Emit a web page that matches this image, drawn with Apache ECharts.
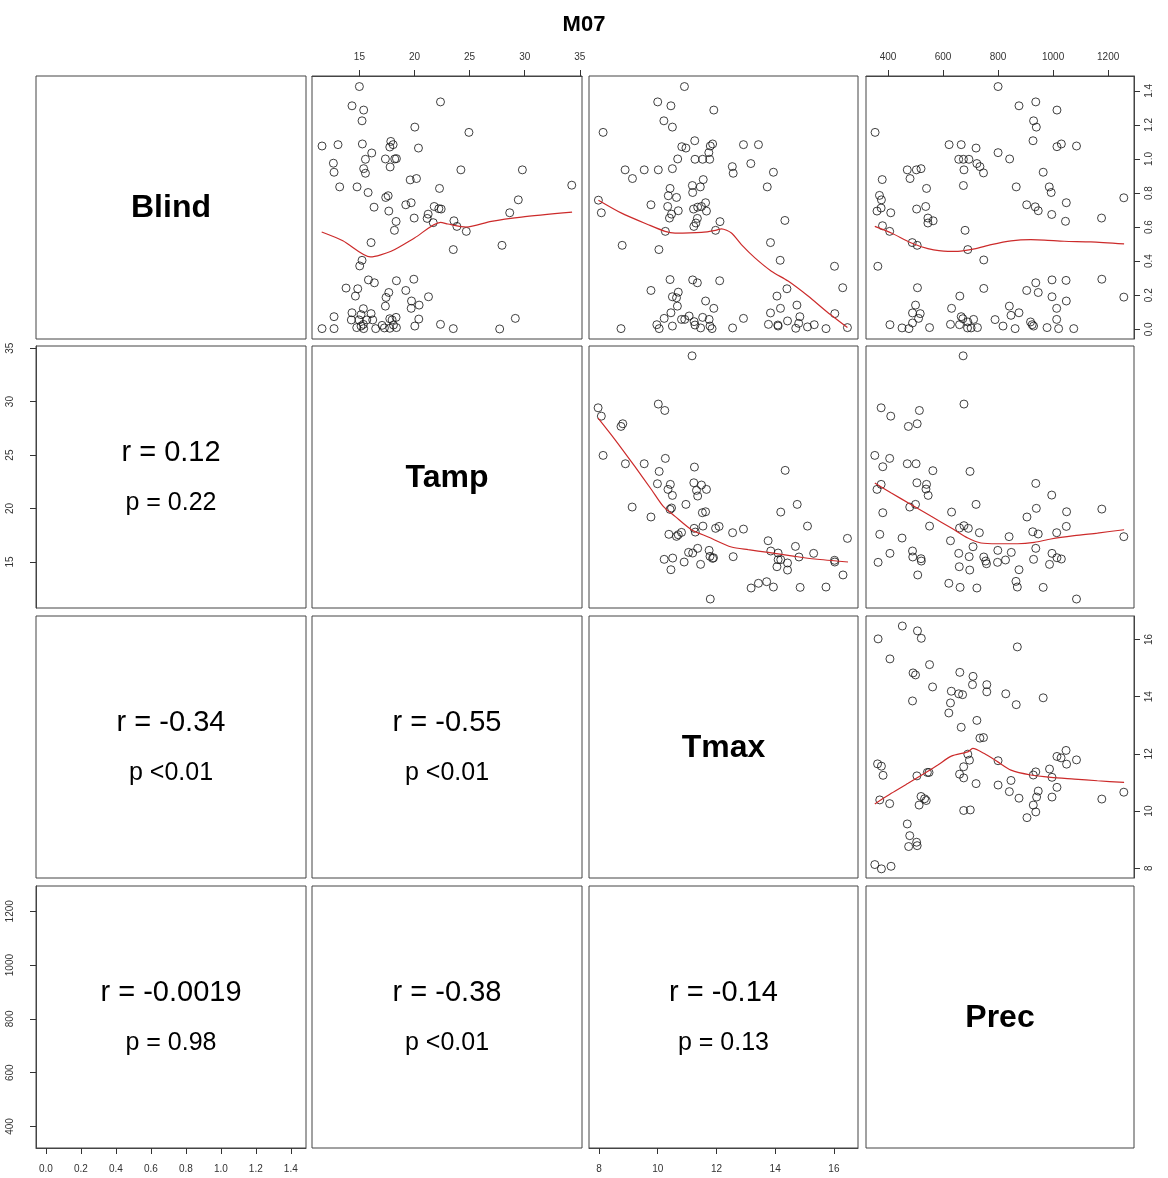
<!DOCTYPE html>
<html><head><meta charset="utf-8">
<script src="https://cdn.jsdelivr.net/npm/echarts@6/dist/echarts.min.js"></script>
<style>html,body{margin:0;padding:0;background:#fff}#c{width:1168px;height:1178px}</style>
</head><body><div id="c"></div>
<script>
// ---------------- DATA ----------------
const chartTitle = 'M07';
const varNames = ['Blind', 'Tamp', 'Tmax', 'Prec'];

const blindTicks = [0, 0.2, 0.4, 0.6, 0.8, 1.0, 1.2, 1.4];
const tampTicks = [15, 20, 25, 30, 35];
const tmaxTicks = [8, 10, 12, 14, 16];
const precTicks = [400, 600, 800, 1000, 1200];

// correlation text for lower panels: [row, col, r, p]
const corrCells = [
  [1, 0, 'r = 0.12', 'p = 0.22'],
  [2, 0, 'r = -0.34', 'p <0.01'],
  [2, 1, 'r = -0.55', 'p <0.01'],
  [3, 0, 'r = -0.0019', 'p = 0.98'],
  [3, 1, 'r = -0.38', 'p <0.01'],
  [3, 2, 'r = -0.14', 'p = 0.13']
];

// Blind (y) vs Tamp (x)
const ptsTampBlind = [[15.0,1.425],[14.33,1.312],[15.39,1.287],[15.24,1.224],[22.36,1.335],[20.03,1.187],[24.94,1.156],[11.61,1.076],[13.06,1.084],[15.27,1.088],[17.85,1.103],[18.06,1.084],[17.76,1.07],[20.36,1.064],[16.12,1.035],[15.55,0.998],[17.36,1.0],[18.21,1.0],[18.36,1.002],[12.64,0.975],[12.7,0.922],[15.39,0.943],[15.55,0.916],[17.79,0.953],[24.21,0.936],[29.79,0.936],[19.61,0.877],[20.18,0.885],[13.21,0.836],[14.79,0.836],[22.27,0.827],[34.27,0.846],[15.79,0.803],[17.39,0.774],[17.61,0.784],[19.21,0.731],[19.7,0.743],[16.33,0.717],[17.67,0.694],[21.79,0.721],[22.21,0.708],[22.42,0.706],[21.24,0.676],[21.15,0.651],[19.97,0.653],[21.7,0.626],[29.42,0.76],[28.64,0.684],[23.58,0.637],[23.85,0.604],[24.7,0.575],[18.33,0.633],[18.18,0.581],[16.06,0.509],[23.52,0.468],[27.94,0.493],[15.24,0.405],[15.03,0.372],[15.82,0.29],[16.36,0.273],[18.36,0.285],[19.94,0.294],[13.79,0.242],[14.85,0.238],[14.64,0.195],[17.67,0.216],[17.42,0.187],[19.21,0.228],[21.27,0.191],[19.73,0.166],[20.42,0.142],[17.36,0.136],[19.7,0.123],[15.36,0.121],[14.33,0.097],[16.06,0.092],[15.15,0.086],[12.7,0.074],[14.27,0.055],[14.97,0.055],[15.67,0.055],[16.21,0.055],[17.76,0.062],[18.33,0.07],[17.97,0.055],[20.39,0.06],[29.15,0.064],[11.61,0.004],[12.7,0.004],[14.76,0.01],[15.15,0.019],[15.36,0.029],[15.39,0.004],[16.48,0.004],[17.06,0.023],[17.27,0.008],[17.76,0.006],[18.09,0.025],[18.36,0.01],[20.03,0.019],[22.36,0.029],[23.52,0.004],[27.73,0.002]];
const lineTampBlind = [[11.58,0.571],[13.5,0.52],[16.0,0.425],[17.88,0.458],[20.0,0.536],[22.36,0.628],[23.03,0.618],[24.7,0.6],[26.97,0.634],[29.7,0.659],[34.3,0.688]];

// Blind (y) vs Tmax (x)
const ptsTmaxBlind = [[10.91,1.425],[10.0,1.335],[10.45,1.312],[11.91,1.287],[10.21,1.224],[10.5,1.187],[8.14,1.156],[11.26,1.107],[10.82,1.072],[10.96,1.064],[11.79,1.076],[11.87,1.088],[12.92,1.084],[13.43,1.084],[11.74,1.037],[10.68,1.0],[11.27,0.998],[11.53,0.998],[11.77,0.998],[13.17,0.973],[12.54,0.955],[12.57,0.916],[8.89,0.936],[9.54,0.936],[10.02,0.936],[10.5,0.943],[9.14,0.885],[13.94,0.922],[11.55,0.879],[11.18,0.844],[11.45,0.836],[13.73,0.836],[10.42,0.827],[11.19,0.803],[10.36,0.784],[10.64,0.774],[7.98,0.758],[8.08,0.684],[9.77,0.731],[10.34,0.721],[11.22,0.706],[11.36,0.717],[11.49,0.721],[11.63,0.743],[11.66,0.694],[10.7,0.696],[10.47,0.676],[10.4,0.653],[11.35,0.651],[11.3,0.624],[11.23,0.604],[12.12,0.632],[14.33,0.639],[10.26,0.575],[11.97,0.581],[8.79,0.493],[10.04,0.468],[13.84,0.509],[14.17,0.405],[16.02,0.37],[16.3,0.244],[10.42,0.292],[11.19,0.29],[11.35,0.273],[12.11,0.285],[9.77,0.228],[10.7,0.218],[10.5,0.191],[10.64,0.185],[10.67,0.136],[11.63,0.166],[11.91,0.123],[14.4,0.238],[14.06,0.195],[14.74,0.142],[14.18,0.123],[10.45,0.097],[13.84,0.096],[16.03,0.092],[10.22,0.064],[10.81,0.058],[10.92,0.058],[11.07,0.078],[11.24,0.045],[11.53,0.07],[11.75,0.058],[12.92,0.064],[14.42,0.049],[14.84,0.074],[9.97,0.027],[10.05,0.004],[8.75,0.004],[10.5,0.019],[11.27,0.025],[11.46,0.008],[11.78,0.019],[11.85,0.004],[12.55,0.008],[13.77,0.029],[14.09,0.025],[14.1,0.019],[14.7,0.006],[14.8,0.035],[15.1,0.014],[15.33,0.027],[15.73,0.004],[16.46,0.01]];
const lineTmaxBlind = [[7.98,0.758],[8.77,0.682],[9.68,0.614],[10.25,0.575],[10.59,0.565],[11.49,0.569],[11.97,0.581],[12.17,0.59],[12.51,0.565],[12.85,0.497],[13.31,0.419],[13.87,0.341],[14.44,0.283],[15.12,0.195],[15.8,0.097],[16.46,0.01]];

// Blind (y) vs Prec (x)
const ptsPrecBlind = [[800,1.425],[876,1.312],[937,1.335],[1014,1.287],[929,1.224],[939,1.187],[353,1.156],[927,1.107],[622,1.084],[666,1.084],[720,1.064],[1014,1.072],[1030,1.088],[1085,1.076],[800,1.037],[842,1.0],[657,0.998],[674,0.998],[694,0.998],[723,0.973],[734,0.955],[747,0.918],[470,0.936],[503,0.936],[520,0.943],[676,0.936],[480,0.885],[964,0.922],[379,0.879],[674,0.844],[866,0.836],[986,0.836],[540,0.827],[993,0.803],[369,0.786],[376,0.76],[1257,0.772],[375,0.712],[360,0.694],[410,0.684],[504,0.706],[537,0.721],[904,0.731],[935,0.719],[946,0.696],[1048,0.743],[995,0.674],[1176,0.653],[545,0.653],[564,0.637],[545,0.624],[1045,0.634],[380,0.608],[406,0.575],[680,0.581],[488,0.509],[506,0.493],[690,0.468],[363,0.37],[748,0.407],[507,0.244],[748,0.24],[661,0.195],[904,0.228],[937,0.273],[946,0.216],[996,0.29],[1047,0.287],[1177,0.294],[996,0.191],[1048,0.166],[1257,0.189],[500,0.142],[489,0.096],[517,0.092],[511,0.064],[489,0.037],[631,0.123],[841,0.136],[847,0.082],[876,0.097],[1013,0.123],[1013,0.058],[407,0.027],[451,0.008],[476,0.004],[551,0.01],[627,0.029],[660,0.027],[666,0.074],[672,0.062],[690,0.043],[711,0.058],[689,0.008],[702,0.008],[725,0.01],[789,0.057],[818,0.019],[862,0.004],[918,0.043],[924,0.027],[929,0.019],[978,0.01],[1020,0.004],[1075,0.004]];
const linePrecBlind = [[352,0.604],[412,0.565],[485,0.507],[545,0.474],[618,0.458],[654,0.458],[714,0.472],[775,0.497],[847,0.519],[919,0.526],[968,0.524],[1040,0.517],[1137,0.513],[1258,0.501]];

// Tamp (y) vs Tmax (x)
const ptsTmaxTamp = [[11.17,34.28],[7.97,29.42],[8.08,28.64],[10.02,29.77],[10.24,29.17],[8.75,27.68],[8.81,27.93],[8.14,24.97],[8.9,24.19],[9.54,24.19],[10.26,24.69],[10.05,23.47],[11.25,23.88],[14.34,23.57],[9.99,22.32],[10.43,22.26],[10.35,21.79],[10.5,21.23],[11.23,22.41],[11.49,22.2],[11.66,21.79],[11.32,21.7],[11.36,21.17],[9.13,20.14],[9.77,19.21],[10.47,20.05],[10.42,19.92],[10.96,20.39],[11.52,19.61],[11.63,19.7],[14.19,19.67],[14.75,20.39],[15.1,18.36],[10.38,17.59],[10.64,17.4],[10.7,17.55],[10.81,17.77],[11.24,18.15],[11.28,17.8],[11.54,18.36],[11.97,18.15],[12.09,18.33],[12.55,17.74],[12.92,18.08],[13.76,16.99],[13.85,16.03],[14.1,15.84],[14.1,15.22],[14.19,15.22],[14.06,14.56],[14.42,14.91],[14.42,14.25],[14.69,16.46],[14.81,15.47],[15.31,15.81],[16.02,15.16],[16.03,15.0],[16.46,17.21],[16.31,13.79],[10.22,15.25],[10.51,15.37],[10.45,14.28],[10.9,15.0],[11.05,15.9],[11.19,15.84],[11.36,16.28],[11.46,14.78],[11.75,16.09],[11.78,15.53],[11.87,15.34],[11.9,15.4],[12.57,15.5],[13.18,12.57],[13.43,13.01],[13.71,13.16],[13.94,12.66],[14.85,12.63],[15.73,12.66],[11.79,11.54]];
const lineTmaxTamp = [[7.97,28.46],[8.55,26.43],[9.22,23.94],[9.79,21.76],[10.19,20.2],[10.59,19.27],[11.15,18.02],[11.72,17.34],[12.51,16.4],[13.08,16.15],[13.76,15.9],[14.67,15.53],[15.35,15.28],[16.48,15.0]];

// Tamp (y) vs Prec (x)
const ptsPrecTamp = [[673,34.28],[676,29.77],[375,29.42],[410,28.64],[514,29.17],[474,27.68],[506,27.93],[352,24.97],[406,24.69],[381,23.91],[470,24.19],[502,24.19],[563,23.54],[698,23.47],[375,22.26],[360,21.79],[505,22.41],[540,22.26],[538,21.82],[546,21.23],[479,20.14],[500,20.39],[381,19.61],[720,20.39],[631,19.67],[937,22.35],[995,21.26],[939,20.02],[905,19.21],[1049,19.7],[1177,19.95],[551,18.36],[660,18.18],[676,18.4],[692,18.15],[370,17.59],[451,17.24],[732,17.74],[926,17.83],[946,17.62],[1013,17.74],[1048,18.33],[840,17.37],[1257,17.37],[627,16.99],[709,16.43],[489,16.03],[490,15.47],[520,15.31],[521,15.09],[407,15.81],[364,14.97],[657,15.81],[695,15.5],[748,15.47],[755,15.09],[758,14.84],[799,16.09],[798,14.97],[827,15.19],[848,15.9],[937,16.28],[929,15.25],[996,15.81],[1014,15.4],[1030,15.28],[987,14.78],[659,14.56],[697,14.25],[876,14.28],[508,13.79],[621,13.01],[662,12.63],[723,12.57],[865,13.19],[870,12.66],[964,12.63],[1085,11.54]];
const linePrecTamp = [[352,22.38],[412,21.45],[485,20.36],[557,19.27],[630,18.18],[690,17.24],[738,16.78],[799,16.71],[871,16.71],[932,16.84],[992,17.15],[1077,17.46],[1161,17.71],[1258,18.02]];

// Tmax (y) vs Prec (x)
const ptsPrecTmax = [[452,16.47],[507,16.3],[521,16.04],[364,16.02],[870,15.74],[407,15.32],[551,15.12],[491,14.83],[500,14.76],[661,14.85],[709,14.71],[707,14.42],[562,14.34],[759,14.42],[759,14.17],[630,14.19],[657,14.1],[671,14.07],[828,14.1],[964,13.96],[866,13.72],[489,13.85],[627,13.78],[621,13.43],[723,13.17],[666,12.93],[734,12.55],[747,12.57],[362,11.65],[376,11.57],[382,11.25],[690,11.99],[696,11.78],[800,11.76],[1047,12.12],[1014,11.91],[1029,11.86],[1085,11.79],[1049,11.64],[505,11.23],[543,11.35],[549,11.35],[660,11.29],[675,11.55],[675,11.16],[720,10.96],[800,10.91],[847,11.07],[937,11.37],[928,11.26],[987,11.47],[996,11.18],[1014,10.83],[841,10.68],[946,10.7],[940,10.49],[876,10.45],[996,10.49],[928,10.21],[937,9.97],[905,9.77],[1177,10.42],[1257,10.66],[370,10.39],[406,10.26],[520,10.51],[539,10.37],[533,10.43],[513,10.21],[675,10.02],[699,10.04],[470,9.55],[479,9.14],[475,8.76],[504,8.91],[506,8.79],[352,8.13],[376,7.98],[411,8.07]];
const linePrecTmax = [[352,10.25],[412,10.62],[473,10.97],[533,11.32],[581,11.61],[630,11.92],[690,12.07],[708,12.19],[750,12.01],[799,11.72],[847,11.43],[919,11.26],[992,11.18],[1077,11.12],[1161,11.06],[1258,11.0]];

// ---------------- LAYOUT / STYLE ----------------
const FONT = "'Liberation Sans', Arial, Helvetica, sans-serif";
const colLeft = [36, 312, 589, 866];
const colWidth = [270, 270, 269, 268];
const rowTop = [76, 346, 616, 886];
const rowHeight = [263, 262, 262, 262];
const ranges = {
  Blind: [-0.057, 1.487],
  Tamp: [10.7, 35.2],
  Tmax: [7.66, 16.82],
  Prec: [320, 1294]
};
const ticksOf = { Blind: blindTicks, Tamp: tampTicks, Tmax: tmaxTicks, Prec: precTicks };
const xAxisShown = { '0-1': 'top', '0-3': 'top', '3-0': 'bottom', '3-2': 'bottom' };
const yAxisShown = { '1-0': 'left', '3-0': 'left', '0-3': 'right', '2-3': 'right' };
const panels = {
  '0-1': [ptsTampBlind, lineTampBlind],
  '0-2': [ptsTmaxBlind, lineTmaxBlind],
  '0-3': [ptsPrecBlind, linePrecBlind],
  '1-2': [ptsTmaxTamp, lineTmaxTamp],
  '1-3': [ptsPrecTamp, linePrecTamp],
  '2-3': [ptsPrecTmax, linePrecTmax]
};

function makeAxis(v, g, pos, isY) {
  const shown = !!pos;
  const fmt = v === 'Blind' ? (x => x.toFixed(1)) : (x => String(x));
  let margin = pos === 'bottom' ? 16 : 14;
  if (isY) margin = pos === 'left' ? 21 : 10;
  return {
    type: 'value', gridIndex: g,
    min: ranges[v][0], max: ranges[v][1],
    position: pos || (isY ? 'left' : 'bottom'),
    axisLine: { show: shown, onZero: false, lineStyle: { color: '#444', width: 1 } },
    splitLine: { show: false },
    axisTick: { show: shown, inside: false, length: 6, customValues: ticksOf[v], lineStyle: { color: '#333', width: 1 } },
    axisLabel: { show: shown, customValues: ticksOf[v], formatter: fmt, color: '#333', fontSize: 10, fontFamily: FONT, margin: margin, rotate: isY ? 90 : 0 }
  };
}

const grids = [], xAxes = [], yAxes = [], series = [], graphics = [];
for (let r = 0; r < 4; r++) {
  for (let c = 0; c < 4; c++) {
    const g = r * 4 + c;
    const key = r + '-' + c;
    grids.push({ left: colLeft[c], top: rowTop[r], width: colWidth[c], height: rowHeight[r], show: true,
      borderColor: '#444', borderWidth: 1, backgroundColor: 'transparent', containLabel: false, outerBoundsMode: 'none' });
    xAxes.push(makeAxis(varNames[c], g, xAxisShown[key], false));
    yAxes.push(makeAxis(varNames[r], g, yAxisShown[key], true));
    if (panels[key]) {
      series.push({ type: 'scatter', xAxisIndex: g, yAxisIndex: g, data: panels[key][0], symbol: 'circle', symbolSize: 8,
        itemStyle: { color: 'rgba(0,0,0,0)', borderColor: '#111', borderWidth: 1 }, silent: true, z: 2 });
      series.push({ type: 'line', xAxisIndex: g, yAxisIndex: g, data: panels[key][1], showSymbol: false, smooth: 0.25,
        lineStyle: { color: '#cc2b2b', width: 1.2 }, silent: true, z: 3 });
    }
    const cx = colLeft[c] + colWidth[c] / 2, cy = rowTop[r] + rowHeight[r] / 2;
    if (r === c) {
      graphics.push({ type: 'text', x: cx, y: cy + 1, silent: true,
        style: { text: varNames[r], fill: '#000', font: 'bold 32px ' + FONT, align: 'center', verticalAlign: 'middle', textAlign: 'center', textVerticalAlign: 'middle' } });
    }
  }
}
corrCells.forEach(([r, c, rt, pt]) => {
  const cx = colLeft[c] + colWidth[c] / 2, cy = rowTop[r] + rowHeight[r] / 2;
  graphics.push({ type: 'text', x: cx, y: cy - 24, silent: true,
    style: { text: rt, fill: '#000', font: '29px ' + FONT, align: 'center', verticalAlign: 'middle', textAlign: 'center', textVerticalAlign: 'middle' } });
  graphics.push({ type: 'text', x: cx, y: cy + 26, silent: true,
    style: { text: pt, fill: '#000', font: '25px ' + FONT, align: 'center', verticalAlign: 'middle', textAlign: 'center', textVerticalAlign: 'middle' } });
});

const chart = echarts.init(document.getElementById('c'), null, { renderer: 'canvas' });
chart.setOption({
  animation: false,
  backgroundColor: '#fff',
  title: { text: chartTitle, left: 'center', top: 9, textStyle: { fontSize: 22, fontWeight: 'bold', fontFamily: FONT, color: '#000' } },
  grid: grids, xAxis: xAxes, yAxis: yAxes, series: series, graphic: graphics
});
</script></body></html>
